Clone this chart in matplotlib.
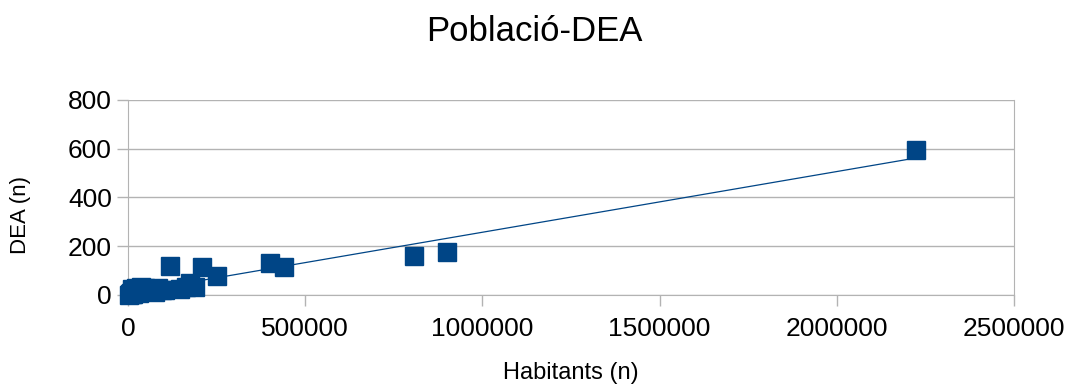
import numpy as np
import matplotlib.pyplot as plt
from matplotlib.ticker import FormatStrFormatter

plt.rcParams["font.family"] = ["Liberation Sans", "DejaVu Sans"]

# habitants per comarca and number of DEA devices
habitants = [
    2223000, 900000, 807000, 400000, 440000, 251000, 209000, 118000,
    164000, 189000, 175000, 147000, 104000, 85000, 62000, 48000,
    34000, 20000, 11000, 6000, 3000, 8000, 25000, 40000, 76000,
    55000, 70000, 95000, 14000, 30000, 10000, 22000, 36000,
]
dea = [
    595, 176, 160, 131, 115, 78, 115, 119,
    33, 33, 49, 25, 20, 29, 20, 29,
    20, 16, 4, 2, 1, 8, 12, 16, 12,
    24, 18, 22, 6, 10, 26, 30, 32,
]

blue = "#004586"
grid = "#b3b3b3"

fig = plt.figure(figsize=(10.69, 3.85), dpi=100)
ax = fig.add_axes([0.1197, 0.2338, 0.8289, 0.5065])

ax.plot(habitants, dea, "s", color=blue, markersize=13.5, zorder=3,
        clip_on=False)

# linear trend line over the data range
slope, intercept = np.polyfit(habitants, dea, 1)
xs = np.array([min(habitants), max(habitants)])
ax.plot(xs, slope * xs + intercept, color=blue, linewidth=0.9, zorder=2)

ax.set_xlim(0, 2500000)
ax.set_ylim(0, 800)
ax.set_xticks(np.arange(0, 2500001, 500000))
ax.set_yticks(np.arange(0, 801, 200))
ax.xaxis.set_major_formatter(FormatStrFormatter("%d"))
ax.yaxis.grid(True, color=grid, linewidth=1)
ax.set_axisbelow(True)
for side in ["left", "bottom", "right"]:
    ax.spines[side].set_color(grid)
ax.spines["top"].set_visible(False)
ax.tick_params(axis="both", colors=grid, labelcolor="black", labelsize=19,
               length=8, width=1)
ax.tick_params(axis="x", pad=8)

ax.set_xlabel("Habitants (n)", fontsize=17, labelpad=15)
ax.set_ylabel("DEA (n)", fontsize=16)
ax.yaxis.set_label_coords(-0.109, 0.41)
fig.suptitle("Població-DEA", fontsize=25, y=0.96)

fig.savefig("out.png", dpi=100)
